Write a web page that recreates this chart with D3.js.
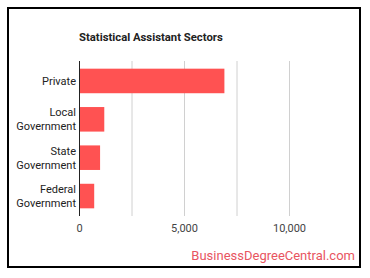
<!DOCTYPE html>
<html><head><meta charset="utf-8">
<script src="https://cdn.jsdelivr.net/npm/d3@7"></script>
<style>
html,body{margin:0;padding:0;background:#fff;}
svg{display:block;font-family:Roboto, "Noto Sans", sans-serif;}
</style></head>
<body>
<svg id="chart" width="370" height="278"></svg>
<script>
const categories = [["Private"], ["Local", "Government"], ["State", "Government"], ["Federal", "Government"]];
const values = [6900, 1180, 980, 700];
const tickValues = [0, 5000, 10000];
const gridValues = [2500, 5000, 7500, 10000];
const title = "Statistical Assistant Sectors";
const watermark = "BusinessDegreeCentral.com";

(function() {
const svg = d3.select("#chart");
svg.append("rect").attr("x", 8).attr("y", 8).attr("width", 352).attr("height", 259)
  .attr("fill", "#fff").attr("stroke", "#000").attr("stroke-width", 2);

const plotLeft = 79.5, plotTop = 61, plotBottom = 216;
const x = d3.scaleLinear().domain([0, 5000]).range([plotLeft, 184.5]);
const idx = categories.map((d, i) => i);
const y = d3.scaleBand().domain(idx).range([plotTop, plotBottom]).paddingInner(0.36).paddingOuter(0.2);

svg.append("text").attr("x", 79).attr("y", 41).text(title)
  .attr("font-size", 11.3).attr("font-weight", "bold").attr("fill", "#222");

svg.append("g").selectAll("line").data(gridValues).join("line")
  .attr("x1", d => x(d)).attr("x2", d => x(d)).attr("y1", plotTop).attr("y2", plotBottom)
  .attr("stroke", "#d0d0d0").attr("stroke-width", 1);

svg.append("g").selectAll("rect").data(values).join("rect")
  .attr("x", x(0)).attr("y", (d, i) => y(i)).attr("width", d => x(d) - x(0))
  .attr("height", y.bandwidth()).attr("fill", "#ff5252");

svg.append("line").attr("x1", x(0)).attr("x2", x(0)).attr("y1", plotTop).attr("y2", plotBottom)
  .attr("stroke", "#222").attr("stroke-width", 1);

const labels = svg.append("g").selectAll("text").data(categories).join("text")
  .attr("text-anchor", "end").attr("font-size", 11).attr("fill", "#222");
labels.each(function(lines, i) {
  const t = d3.select(this);
  const cy = y(i) + y.bandwidth() / 2;
  const lh = 14;
  const startY = cy - (lines.length - 1) * lh / 2 + 4;
  lines.forEach((l, j) => {
    t.append("tspan").attr("x", 76).attr("y", startY + j * lh).text(l);
  });
});

svg.append("g").selectAll("text").data(tickValues).join("text")
  .attr("x", d => x(d)).attr("y", 232).attr("text-anchor", "middle")
  .attr("font-size", 11).attr("fill", "#444").text(d => d3.format(",")(d));

svg.append("text").attr("x", 355).attr("y", 260).attr("text-anchor", "end")
  .attr("font-size", 13).attr("fill", "#e8555f").text(watermark);
})();
</script>
</body></html>
